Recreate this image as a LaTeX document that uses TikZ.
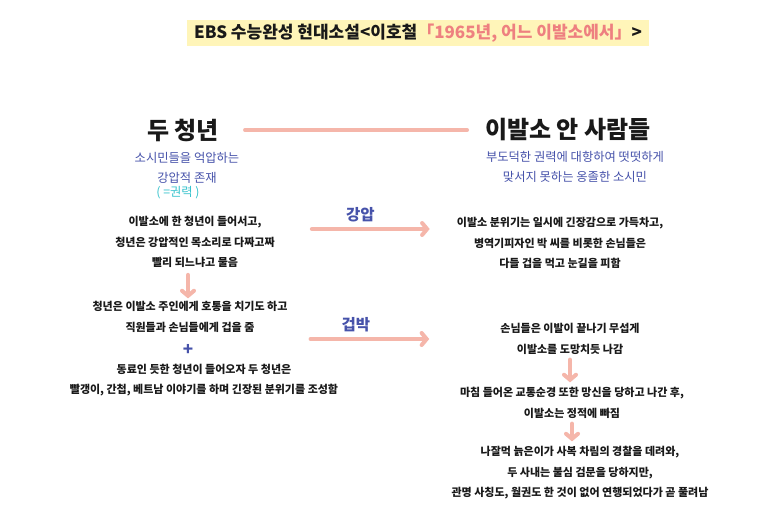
\documentclass[tikz,border=0pt]{standalone}
\usepackage{fontspec}
\setmainfont{Noto Sans CJK KR}
\usepackage{tikz}
\usetikzlibrary{arrows.meta,positioning}
\definecolor{pinkarr}{RGB}{245,182,170}
\definecolor{ink}{RGB}{25,25,25}
\definecolor{bluetxt}{RGB}{70,82,170}
\definecolor{cyantxt}{RGB}{55,195,205}
\definecolor{hilite}{RGB}{255,245,185}
\definecolor{pinktxt}{RGB}{238,128,128}

\begin{document}
\begin{tikzpicture}[x=1pt,y=-1pt,% pixel-like units, y going down
					every node/.style={
						align=center,		% so that "\\" breaks the line
						inner sep=1pt,
						text=ink,
						font=\fontsize{11}{20.5}\bfseries\selectfont
						},
					head/.style={font=\fontsize{24}{28}\bfseries\selectfont},
					sub/.style={text=bluetxt,font=\fontsize{12.3}{20.5}\selectfont},
					lbl/.style={text=bluetxt,font=\fontsize{15.5}{18}\bfseries\selectfont},
					every edge/.style={draw=pinkarr,line width=4pt,line cap=round},
					tip/.style={-{Straight Barb[length=5pt,width=12pt,line cap=round]}}
					]
\useasboundingbox[fill=white] (0,0) rectangle (773,525);
\node[fill=hilite,minimum width=462pt,minimum height=26pt,font=\fontsize{17}{20}\bfseries\selectfont](T) at (418,33){EBS 수능완성 현대소설<이호철\textcolor{pinktxt}{「1965년, 어느 이발소에서」}>};
% the two sides
\node[head](LH) at (183,130){두 청년};
\node[head](RH) at (568,130){이발소 안 사람들};
\node[sub](LS) at (187,168){소시민들을 억압하는\\강압적 존재};
\node[sub,text=cyantxt](LC) at (178,193){( =권력 )};
\node[sub](RS) at (575,167){부도덕한 권력에 대항하여 떳떳하게\\맞서지 못하는 옹졸한 소시민};
% left column
\node(L1) at (195,242){이발소에 한 청년이 들어서고,\\청년은 강압적인 목소리로 다짜고짜\\빨리 되느냐고 물음};
\node(L2) at (190,317){청년은 이발소 주인에게 호통을 치기도 하고\\직원들과 손님들에게 겁을 줌};
\node[text=bluetxt,font=\fontsize{17}{18}\bfseries\selectfont](P) at (188,350){+};
\node(L3) at (204,380){동료인 듯한 청년이 들어오자 두 청년은\\빨갱이, 간첩, 베트남 이야기를 하며 긴장된 분위기를 조성함};
% right column
\node(R1) at (560,243){이발소 분위기는 일시에 긴장감으로 가득차고,\\병역기피자인 박 씨를 비롯한 손님들은\\다들 겁을 먹고 눈길을 피함};
\node(R2) at (570,339){손님들은 이발이 끝나기 무섭게\\이발소를 도망치듯 나감};
\node(R3) at (572,403){마침 들어온 교통순경 또한 망신을 당하고 나간 후,\\이발소는 정적에 빠짐};
\node(R4) at (580,473){나잘먹 늙은이가 사복 차림의 경찰을 데려와,\\두 사내는 불심 검문을 당하지만,\\관명 사칭도, 월권도 한 것이 없어 연행되었다가 곧 풀려남};
\path
(LH)edge [shorten <=25pt,shorten >=17pt] (RH)
([yshift=13pt]L1.east)edge [tip,shorten <=36pt,shorten >=26pt] node [pos=0.47,above=4pt,lbl] {강압} ([yshift=13pt]L1.east -| R1.west)
(R2.west -| L2.east)edge [tip,shorten <=22pt,shorten >=70pt] node [pos=0.32,above=4pt,lbl] {겁박} (R2.west)
(L1.south -| P.center)edge [tip,shorten <=6pt,shorten >=2pt] (L2.north -| P.center)
(R2.south)edge [tip,shorten <=4pt,shorten >=4pt] (R2.south |- R3.north)
(R3.south)edge [tip,shorten <=4pt,shorten >=4pt] (R3.south |- R4.north)
;
\end{tikzpicture}
\end{document}
